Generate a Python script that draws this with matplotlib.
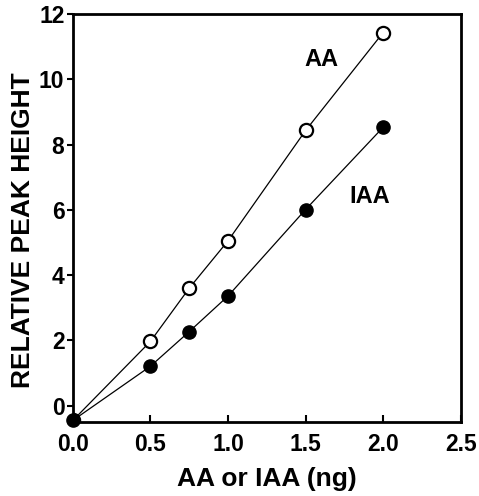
import matplotlib
matplotlib.use("Agg")
import matplotlib.pyplot as plt

x = [0.0, 0.5, 0.75, 1.0, 1.5, 2.0]
aa = [-0.45, 1.97, 3.6, 5.05, 8.43, 11.43]
iaa = [-0.45, 1.21, 2.27, 3.36, 6.01, 8.53]
xticks = [0.0, 0.5, 1.0, 1.5, 2.0, 2.5]
xticklabels = ["0.0", "0.5", "1.0", "1.5", "2.0", "2.5"]
yticks = [0, 2, 4, 6, 8, 10, 12]

plt.rcParams['font.family'] = ['Liberation Sans', 'DejaVu Sans']
plt.rcParams['font.weight'] = 'bold'

fig = plt.figure(figsize=(4.79, 4.96), dpi=100)
ax = fig.add_axes([0.152, 0.149, 0.81, 0.823])

ax.plot(x, aa, color='black', lw=0.9, marker='o', ms=9.5, mfc='white', mec='black', mew=1.6, zorder=3)
ax.plot(x, iaa, color='black', lw=0.9, marker='o', ms=9.5, mfc='black', mec='black', zorder=4, clip_on=False)

ax.text(1.6, 10.6, "AA", fontsize=17, fontweight='bold', ha='center', va='center')
ax.text(1.91, 6.4, "IAA", fontsize=17, fontweight='bold', ha='center', va='center')

ax.set_xlim(0, 2.5)
ax.set_ylim(-0.5, 12)
ax.set_xticks(xticks)
ax.set_xticklabels(xticklabels)
ax.set_yticks(yticks)
ax.tick_params(axis='x', direction='in', length=5, width=1.5, labelsize=16.5, pad=8)
ax.tick_params(axis='y', direction='out', length=4, width=1.5, labelsize=16.5, pad=2)
for s in ax.spines.values():
    s.set_linewidth(2)
ax.set_xlabel("AA or IAA (ng)", fontsize=19, fontweight='bold', labelpad=8)
ax.set_ylabel("RELATIVE PEAK HEIGHT", fontsize=19, fontweight='bold')
ax.yaxis.set_label_coords(-0.098, 0.47)

fig.savefig("out.png", dpi=100)
